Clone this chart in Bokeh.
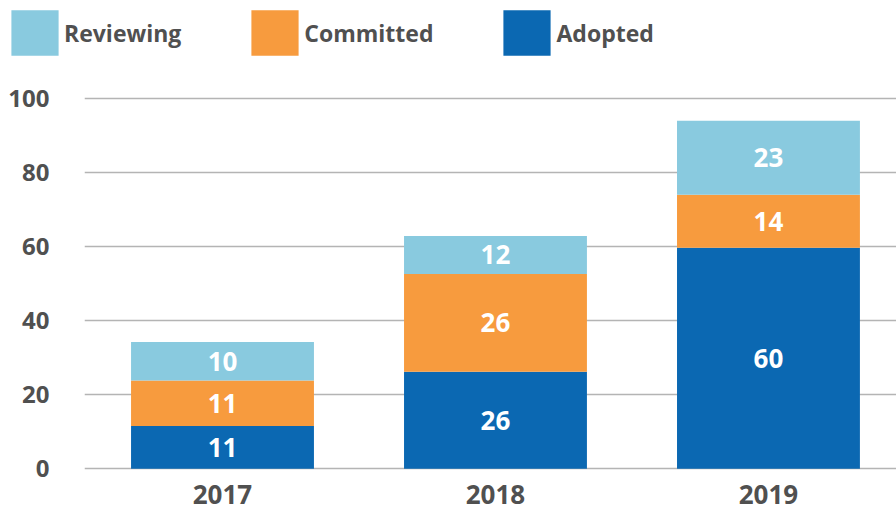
from bokeh.plotting import figure
from bokeh.layouts import column
from bokeh.models import ColumnDataSource, Range1d, FixedTicker, Legend, LegendItem
from bokeh.embed import file_html
from bokeh.resources import INLINE
from bokeh.core.properties import value

# ---- data ----
years = ["2017", "2018", "2019"]
series = ["Adopted", "Committed", "Reviewing"]
adopted = [11.5, 26.2, 59.7]
committed = [12.3, 26.4, 14.3]
reviewing = [10.4, 10.3, 20.0]
adopted_labels = ["11", "26", "60"]
committed_labels = ["11", "26", "14"]
reviewing_labels = ["10", "12", "23"]
colors = ["#0B68B2", "#F79B3E", "#89CADF"]
y_ticks = [0, 20, 40, 60, 80, 100]

FONT = "Open Sans"
STYLE = "bold"
TXT = "#505050"

x = list(range(len(years)))
src = ColumnDataSource(dict(x=x, Adopted=adopted, Committed=committed, Reviewing=reviewing))

# ---- legend strip (top) ----
lg = figure(width=896, height=62, x_range=Range1d(10, 11), y_range=Range1d(10, 11),
            output_backend="svg", toolbar_location=None,
            min_border_left=0, min_border_right=0, min_border_top=0, min_border_bottom=0)
lg.frame_align = False
lg.axis.visible = False
lg.grid.visible = False
lg.outline_line_color = None
key_renderers = lg.vbar_stack(series, x="x", width=0.67, color=colors, line_width=0, source=src)
for r in key_renderers:
    r.visible = False
items = [LegendItem(label=s, renderers=[r]) for s, r in zip(series, key_renderers)][::-1]
legend = Legend(items=items, orientation="horizontal", location=(5, 1),
                glyph_width=59, glyph_height=57, label_standoff=-7, spacing=64,
                padding=0, margin=0, border_line_color=None, background_fill_alpha=0,
                inactive_fill_alpha=0,
                label_text_font=FONT, label_text_font_size="23px",
                label_text_font_style=STYLE, label_text_color=TXT)
lg.add_layout(legend)

# ---- main chart ----
p = figure(width=896, height=455,
           x_range=Range1d(-0.5055, 2.469), y_range=Range1d(-0.5, 107.6),
           output_backend="svg", toolbar_location=None,
           min_border_left=84, min_border_right=0, min_border_top=8, min_border_bottom=47)
p.frame_align = False

p.vbar_stack(series, x="x", width=0.67, color=colors, line_width=0, source=src)

# value labels centred in each segment
values = [adopted, committed, reviewing]
labels = [adopted_labels, committed_labels, reviewing_labels]
bottom = [0.0] * len(years)
for vals, labs in zip(values, labels):
    mids = [b + v / 2 for b, v in zip(bottom, vals)]
    p.text(x=x, y=mids, text=labs, text_align="center", text_baseline="middle",
           text_color="white", text_font=value(FONT), text_font_size="26px",
           text_font_style=STYLE)
    bottom = [b + v for b, v in zip(bottom, vals)]

# axes
p.yaxis.ticker = FixedTicker(ticks=y_ticks)
p.xaxis.ticker = FixedTicker(ticks=x)
p.xaxis.major_label_overrides = {i: y for i, y in zip(x, years)}
for ax in (p.xaxis[0], p.yaxis[0]):
    ax.axis_line_color = None
    ax.major_tick_line_color = None
    ax.minor_tick_line_color = None
    ax.major_tick_out = 0
    ax.major_tick_in = 0
    ax.minor_tick_out = 0
    ax.minor_tick_in = 0
    ax.major_label_text_font = FONT
    ax.major_label_text_font_style = STYLE
    ax.major_label_text_color = TXT
p.yaxis.major_label_text_font_size = "24px"
p.yaxis.major_label_standoff = 35
p.xaxis.major_label_text_font_size = "26px"
p.xaxis.major_label_standoff = 14

p.xgrid.visible = False
p.ygrid.grid_line_color = "#b4b4b4"
p.ygrid.grid_line_width = 1.5
p.outline_line_color = None

layout = column(lg, p, spacing=0)
open("out.html", "w").write(file_html(layout, INLINE))
